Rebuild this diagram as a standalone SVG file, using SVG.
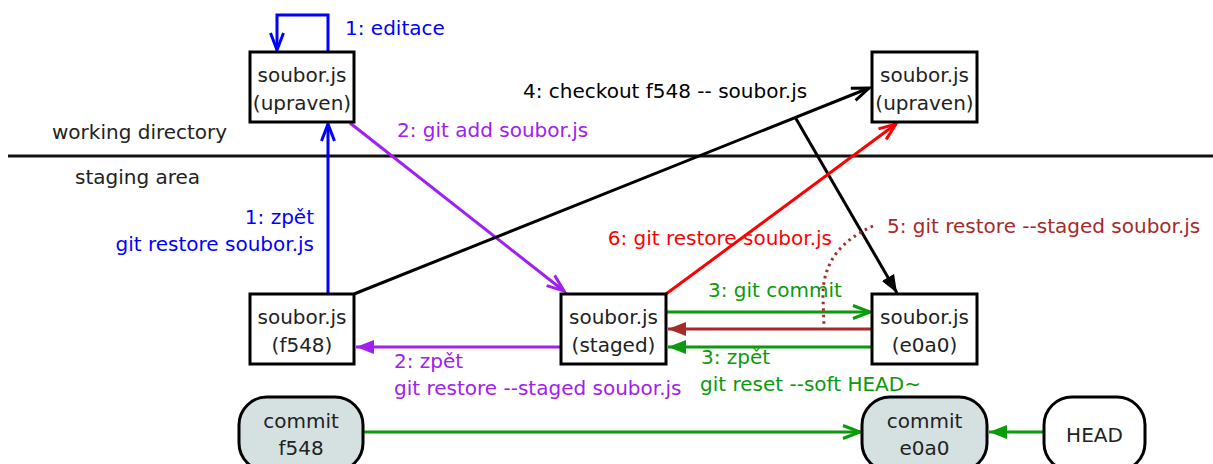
<svg xmlns="http://www.w3.org/2000/svg" width="1213" height="464" viewBox="0 0 1213 464">
<style>
text{font-family:"DejaVu Sans","Verdana",sans-serif;font-size:20px}
.lbl{fill:#222}
.box{fill:#fff;stroke:#000;stroke-width:3}
.cm{fill:#d5e1e1;stroke:#000;stroke-width:3}
.hd{fill:#fff;stroke:#000;stroke-width:3}
.e{fill:none;stroke-width:3}
.blue{stroke:#0000ff}.purple{stroke:#a020f0}.black{stroke:#000}.red{stroke:#ff0000}.green{stroke:#0b9a0b}.brown{stroke:#a52a2a}
.tblue{fill:#0000ff}.tpurple{fill:#a020f0}.tblack{fill:#000}.tred{fill:#ff0000}.tgreen{fill:#0b9a0b}.tbrown{fill:#a52a2a}
</style>
<defs>
<marker id="oBlue" markerUnits="userSpaceOnUse" markerWidth="22" markerHeight="18" refX="19" refY="8" orient="auto"><path d="M2,1.5 L19,8 L2,14.5" fill="none" stroke="#0000ff" stroke-width="3"/></marker>
<marker id="oPurple" markerUnits="userSpaceOnUse" markerWidth="22" markerHeight="18" refX="19" refY="8" orient="auto"><path d="M2,1.5 L19,8 L2,14.5" fill="none" stroke="#a020f0" stroke-width="3"/></marker>
<marker id="oBlack" markerUnits="userSpaceOnUse" markerWidth="22" markerHeight="18" refX="19" refY="8" orient="auto"><path d="M2,1.5 L19,8 L2,14.5" fill="none" stroke="#000" stroke-width="3"/></marker>
<marker id="oRed" markerUnits="userSpaceOnUse" markerWidth="22" markerHeight="18" refX="19" refY="8" orient="auto"><path d="M2,1.5 L19,8 L2,14.5" fill="none" stroke="#ff0000" stroke-width="3"/></marker>
<marker id="oGreen" markerUnits="userSpaceOnUse" markerWidth="22" markerHeight="18" refX="19" refY="8" orient="auto"><path d="M2,1.5 L19,8 L2,14.5" fill="none" stroke="#0b9a0b" stroke-width="3"/></marker>
<marker id="fPurple" markerUnits="userSpaceOnUse" markerWidth="20" markerHeight="16" refX="18" refY="8" orient="auto"><path d="M0,1 L18,8 L0,15 Z" fill="#a020f0"/></marker>
<marker id="fBlack" markerUnits="userSpaceOnUse" markerWidth="20" markerHeight="16" refX="18" refY="8" orient="auto"><path d="M0,1 L18,8 L0,15 Z" fill="#000"/></marker>
<marker id="fGreen" markerUnits="userSpaceOnUse" markerWidth="20" markerHeight="16" refX="18" refY="8" orient="auto"><path d="M0,1 L18,8 L0,15 Z" fill="#0b9a0b"/></marker>
<marker id="fBrown" markerUnits="userSpaceOnUse" markerWidth="20" markerHeight="16" refX="18" refY="8" orient="auto"><path d="M0,1 L18,8 L0,15 Z" fill="#a52a2a"/></marker>
</defs>

<g id="divider">
<line x1="8" y1="156" x2="1213" y2="156" stroke="#111" stroke-width="3"/>
<text class="lbl" x="52" y="139">working directory</text>
<text class="lbl" x="75" y="184">staging area</text>
</g>

<g id="connectors">
<path class="e blue" d="M328,52 L328,15 L277,15 L277,50" marker-end="url(#oBlue)"/>
<path class="e blue" d="M328,294 L328,124" marker-end="url(#oBlue)"/>
<path class="e purple" d="M350,123 L564,291" marker-end="url(#oPurple)"/>
<path class="e purple" d="M561,347 L356,347" marker-end="url(#fPurple)"/>
<path class="e black" d="M354,294 L869,88" marker-end="url(#oBlack)"/>
<path class="e black" d="M795,117 L897,293" marker-end="url(#fBlack)"/>
<path class="e red" d="M666,294 L896,124" marker-end="url(#oRed)"/>
<path class="e green" d="M666,312 L870,312" marker-end="url(#oGreen)"/>
<path class="e brown" d="M872,329 L668,329" marker-end="url(#fBrown)"/>
<path class="e green" d="M872,347 L668,347" marker-end="url(#fGreen)"/>
<path d="M873,226 C842,240 822,262 823,298 L824,328" fill="none" stroke="#a52a2a" stroke-width="3" stroke-dasharray="2.5 4"/>
<path class="e green" d="M363,432 L860,432" marker-end="url(#oGreen)"/>
<path class="e green" d="M1044,432 L989,432" marker-end="url(#fGreen)"/>

<text class="tblue" x="345" y="35">1: editace</text>
<text class="tblue" x="314" y="224" text-anchor="end">1: zpět</text>
<text class="tblue" x="314" y="251" text-anchor="end">git restore soubor.js</text>
<text class="tpurple" x="397" y="137">2: git add soubor.js</text>
<text class="tpurple" x="394" y="368">2: zpět</text>
<text class="tpurple" x="394" y="395">git restore --staged soubor.js</text>
<text class="tblack" x="523" y="98">4: checkout f548 -- soubor.js</text>
<text class="tred" x="832" y="245" text-anchor="end">6: git restore soubor.js</text>
<text class="tbrown" x="887" y="233">5: git restore --staged soubor.js</text>
<text class="tgreen" x="708" y="297">3: git commit</text>
<text class="tgreen" x="701" y="364">3: zpět</text>
<text class="tgreen" x="700" y="391">git reset --soft HEAD~</text>
</g>

<g id="wd-upraven">
<rect class="box" x="250" y="52" width="104" height="70"/>
<text class="lbl" x="302" y="82" text-anchor="middle">soubor.js</text>
<text class="lbl" x="302" y="110" text-anchor="middle">(upraven)</text>
</g>
<g id="wd-upraven2">
<rect class="box" x="872" y="52" width="105" height="70"/>
<text class="lbl" x="924.5" y="82" text-anchor="middle">soubor.js</text>
<text class="lbl" x="924.5" y="110" text-anchor="middle">(upraven)</text>
</g>
<g id="st-f548">
<rect class="box" x="250" y="294" width="104" height="70"/>
<text class="lbl" x="302" y="324" text-anchor="middle">soubor.js</text>
<text class="lbl" x="302" y="352" text-anchor="middle">(f548)</text>
</g>
<g id="st-staged">
<rect class="box" x="561" y="294" width="105" height="70"/>
<text class="lbl" x="613.5" y="324" text-anchor="middle">soubor.js</text>
<text class="lbl" x="613.5" y="352" text-anchor="middle">(staged)</text>
</g>
<g id="st-e0a0">
<rect class="box" x="872" y="294" width="105" height="70"/>
<text class="lbl" x="924.5" y="324" text-anchor="middle">soubor.js</text>
<text class="lbl" x="924.5" y="352" text-anchor="middle">(e0a0)</text>
</g>
<g id="commit-f548">
<rect class="cm" x="239" y="397" width="124" height="74" rx="28" ry="28"/>
<text class="lbl" x="301" y="428" text-anchor="middle">commit</text>
<text class="lbl" x="301" y="455" text-anchor="middle">f548</text>
</g>
<g id="commit-e0a0">
<rect class="cm" x="862" y="397" width="125" height="74" rx="28" ry="28"/>
<text class="lbl" x="924.5" y="428" text-anchor="middle">commit</text>
<text class="lbl" x="924.5" y="455" text-anchor="middle">e0a0</text>
</g>
<g id="head">
<rect class="hd" x="1044" y="397" width="101" height="74" rx="28" ry="28"/>
<text class="lbl" x="1094.5" y="442" text-anchor="middle">HEAD</text>
</g>
</svg>
